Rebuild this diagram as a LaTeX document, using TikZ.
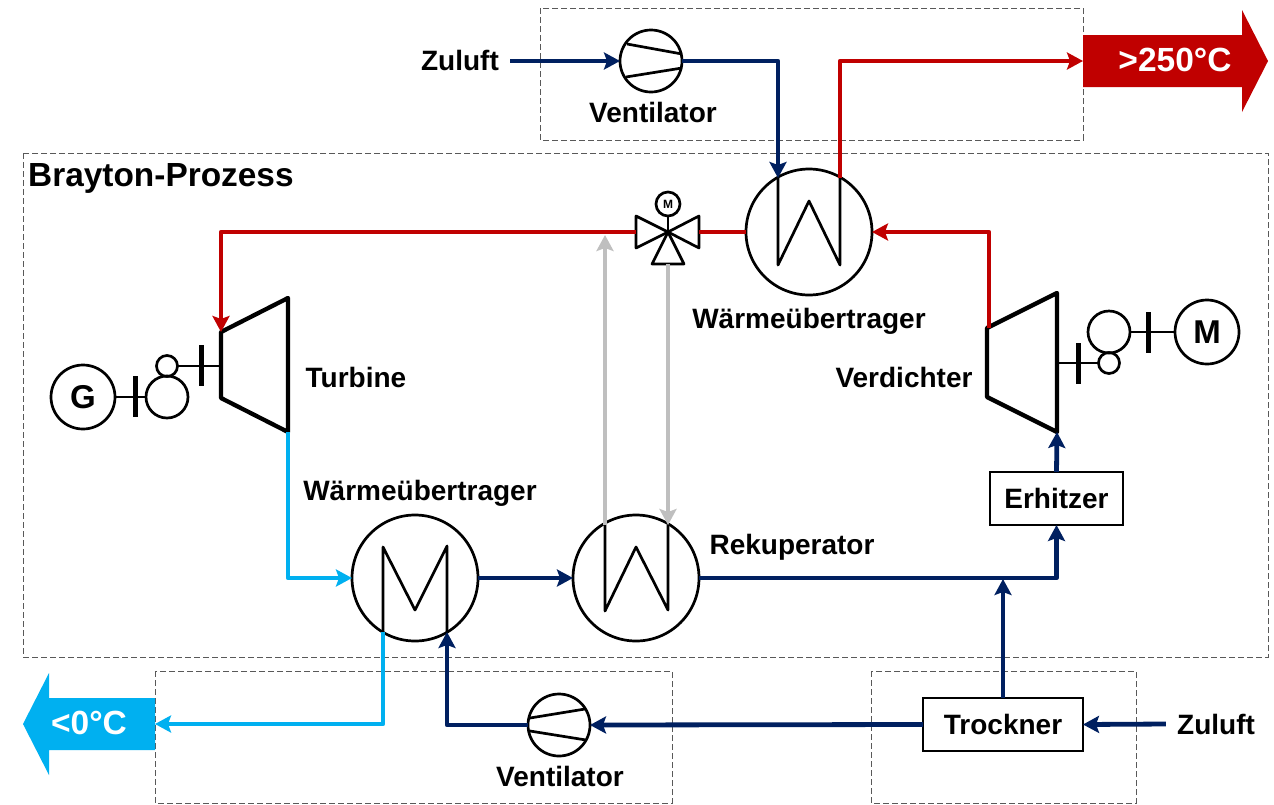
\documentclass[tikz,border=0pt]{standalone}
\usepackage{fontspec}
\setmainfont{Liberation Sans}
\usetikzlibrary{arrows.meta}
\definecolor{hot}{HTML}{C00000}
\definecolor{cold}{HTML}{00B0F0}
\definecolor{air}{HTML}{002060}
\definecolor{bypass}{HTML}{BFBFBF}
\begin{document}
\begin{tikzpicture}[x=1pt, y=-1pt]
  \tikzstyle{ring}=[circle, draw, line width=2.7pt, inner sep=0pt, outer sep=0pt]
  \tikzstyle{hx}=[ring, minimum size=126pt]
  \tikzstyle{fan}=[ring, minimum size=62pt]
  \tikzstyle{motor}=[ring, minimum size=64pt, font=\fontsize{33}{35}\selectfont\bfseries]
  \tikzstyle{gearbig}=[ring, minimum size=42pt]
  \tikzstyle{gearsmall}=[ring, minimum size=21pt]
  \tikzstyle{boxed}=[draw, line width=2pt, inner sep=0pt, outer sep=0pt, font=\fontsize{28}{30}\selectfont\bfseries]
  \tikzstyle{txt}=[inner sep=0pt, font=\fontsize{28}{30}\selectfont\bfseries]
  \tikzstyle{bigtxt}=[inner sep=0pt, text=white, font=\fontsize{33.5}{35}\selectfont\bfseries]
  \tikzstyle{region}=[draw=black!65, line width=1pt, dash pattern=on 6pt off 3pt]
  \tikzstyle{pipe}=[line width=4.8pt, line join=round, -{Stealth[length=16pt, width=17pt, inset=3pt]}]
  \tikzstyle{thin}=[line width=2.7pt, line join=round]
  \tikzstyle{heavy}=[line width=4.3pt, line join=round]
  \tikzstyle{tick}=[line width=5pt]

  \useasboundingbox (0,0) rectangle (1274,804);

  % dashed regions
  \draw[region] (540,8) rectangle (1083,140);
  \draw[region] (23,153) rectangle (1268,657);
  \draw[region] (155,671) rectangle (672,803);
  \draw[region] (871,671) rectangle (1136,803);

  % heat exchangers
  \node[hx] (hxtop) at (809,232) {};
  \node[hx] (hxcold) at (415,578) {};
  \node[hx] (reku) at (636,578) {};

  \coordinate (hxtopa) at (778,178);
  \coordinate (hxtopb) at (840,178);
  \coordinate (hxcolda) at (383,632);
  \coordinate (hxcoldb) at (447,632);
  \coordinate (rekua) at (605,525);
  \coordinate (rekub) at (668,525);

  \draw[thin] (hxtopa) -- (778,265) -- (809,201) -- (840,265) -- (hxtopb);
  \draw[thin] (hxcolda) -- (383,547) -- (415,610) -- (447,546) -- (hxcoldb);
  \draw[thin] (rekua) -- (605,611) -- (636,547) -- (668,610) -- (rekub);

  % fans
  \node[fan] (fantop) at (651,61) {};
  \node[fan] (fanbot) at (559,725) {};
  \draw[thin] (627,44) -- (682,54);
  \draw[thin] (626,77) -- (682,68);
  \draw[thin] (530,718) -- (585,709);
  \draw[thin] (530,731) -- (586,740);

  % valve
  \coordinate (valve) at (668,232);
  \coordinate (valvel) at (636,232);
  \coordinate (valver) at (699,232);
  \coordinate (valveb) at (668,264);
  \node[ring, minimum size=24pt, font=\fontsize{12}{12}\selectfont\bfseries] (valvem) at (668,204) {M};
  \draw[thin] (valve) -- (636,216) -- (636,248) -- cycle;
  \draw[thin] (valve) -- (699,216) -- (699,248) -- cycle;
  \draw[thin] (valve) -- (652,264) -- (684,264) -- cycle;
  \draw[thin] (valvem) -- (valve);

  % turbine
  \coordinate (turbin) at (221,332);
  \coordinate (turbout) at (288,432);
  \coordinate (turbshaft) at (221,366);
  \draw[heavy] (turbin) -- (288,298) -- (turbout) -- (221,398) -- cycle;
  \node[motor] (gen) at (83,397) {G};
  \node[gearbig] (gearta) at (167,397) {};
  \node[gearsmall] (geartb) at (167,366) {};
  \draw[thin] (gen) -- (gearta);
  \draw[thin] (geartb) -- (turbshaft);
  \draw[tick] (135,376) -- (135,417);
  \draw[tick] (201,345) -- (201,386);

  % compressor
  \coordinate (compin) at (1057,432);
  \coordinate (compout) at (989,328);
  \coordinate (compshaft) at (1057,363);
  \draw[heavy] (987,328) -- (1057,293) -- (compin) -- (987,397) -- cycle;
  \node[motor] (mot) at (1207,332) {M};
  \node[gearbig] (gearca) at (1109,332) {};
  \node[gearsmall] (gearcb) at (1109,363) {};
  \draw[thin] (mot) -- (gearca);
  \draw[thin] (gearcb) -- (compshaft);
  \draw[tick] (1148,312) -- (1148,353);
  \draw[tick] (1078,343) -- (1078,384);

  % boxes
  \node[boxed, minimum width=133pt, minimum height=53pt] (erhitzer) at (1056.5,498.5) {Erhitzer};
  \node[boxed, minimum width=160pt, minimum height=53pt] (trockner) at (1003,724.5) {Trockner};

  % outlets
  \fill[hot] (1083,35) -- (1242,35) -- (1242,10) -- (1268,61) -- (1242,112) -- (1242,87) -- (1083,87) -- cycle;
  \fill[cold] (155,698) -- (49,698) -- (49,673) -- (23,724) -- (49,775) -- (49,750) -- (155,750) -- cycle;
  \node[bigtxt] (outhot) at (1175,60) {>250°C};
  \node[bigtxt] (outcold) at (89,723) {<0°C};
  \coordinate (outhotend) at (1083,61);
  \coordinate (outcoldend) at (155,724);

  % labels
  \node[txt] (zulufttop) at (460,60) {Zuluft};
  \node[txt] (zuluftbot) at (1216,724) {Zuluft};
  \node[txt] (ventop) at (653,112) {Ventilator};
  \node[txt] (venbot) at (560,776) {Ventilator};
  \node[txt] (hxtoplbl) at (809,321) {Wärmeübertrager};
  \node[txt] (hxcoldlbl) at (420,493) {Wärmeübertrager};
  \node[txt] (turblbl) at (356,377) {Turbine};
  \node[txt] (complbl) at (904,377) {Verdichter};
  \node[txt] (rekulbl) at (792,547) {Rekuperator};
  \node[txt, anchor=west, font=\fontsize{33.4}{35}\selectfont\bfseries] (brayton) at (28,178) {Brayton-Prozess};

  % pipes
  \draw[pipe, air] (zulufttop.east) ++(11,1) coordinate (zuluftstart) -- (fantop.west);
  \draw[pipe, air] (fantop.east) -| (hxtopa);
  \draw[pipe, hot] (hxtopb) |- (outhotend);
  \draw[pipe, hot] (compout) |- (hxtop.east);
  \draw[line width=4.8pt, hot] (hxtop.west) -- (valver);
  \draw[pipe, hot] (valvel) -| (turbin);
  \draw[pipe, cold] (turbout) |- (hxcold.west);
  \draw[pipe, air] (hxcold.east) -- (reku.west);
  \draw[pipe, air] (reku.east) -| (erhitzer.south);
  \draw[pipe, air] (erhitzer.north) -- (compin);
  \coordinate (junction) at (1003,579);
  \draw[pipe, air] (trockner.north) -- (junction);
  \draw[pipe, air] (zuluftbot.west) ++(-11,0) coordinate (zuluftend) -- (trockner.east);
  \draw[pipe, air] (trockner.west) -- (fanbot.east);
  \draw[pipe, air] (fanbot.west) -| (hxcoldb);
  \draw[pipe, cold] (hxcolda) |- (outcoldend);
  \draw[pipe, bypass] (rekua) -- (605,235);
  \draw[pipe, bypass] (valveb) -- (rekub);
\end{tikzpicture}
\end{document}
